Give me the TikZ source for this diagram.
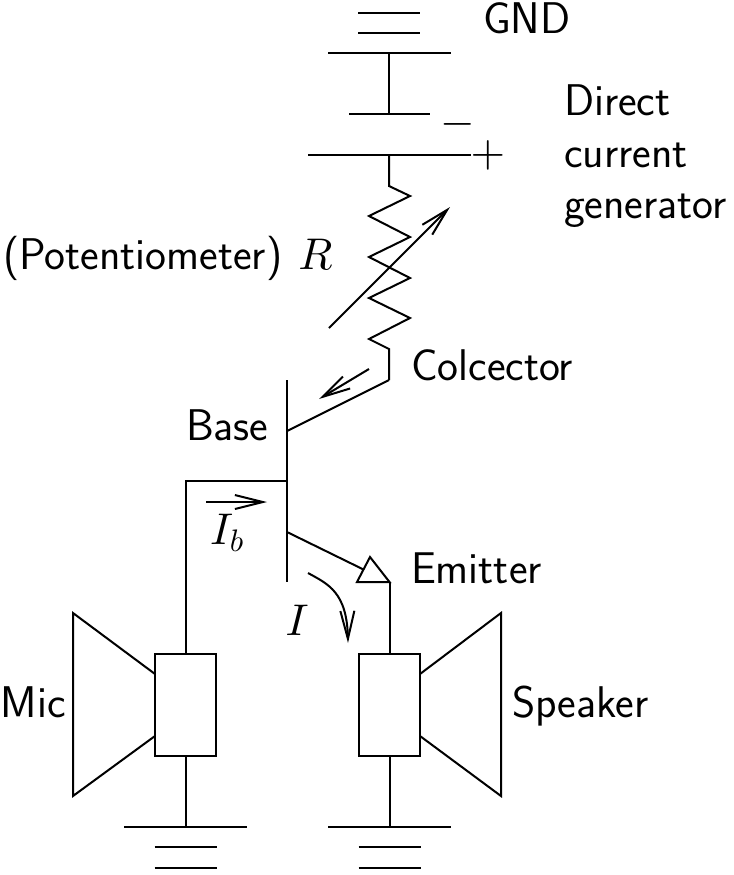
\documentclass[tikz,border=0pt]{standalone}
\usetikzlibrary{arrows.meta}
\renewcommand{\familydefault}{\sfdefault}
\DeclareFontShape{OML}{cmm}{m}{it}{<-> cmmi10}{\skewchar\font=127}
\DeclareFontShape{OMS}{cmsy}{m}{n}{<-> cmsy10}{\skewchar\font=48}
\DeclareFontShape{OT1}{cmr}{m}{n}{<-> cmr10}{}
\tikzset{
  wire/.style={line width=1.5pt, line join=miter},
  currentarrow/.style={line width=1.5pt, -{Straight Barb[length=21pt,width=10.5pt]}},
  coilbox/.style={draw, line width=1.5pt, minimum width=45.75pt, minimum height=76.5pt, inner sep=0pt, outer sep=0pt},
  lab/.style={anchor=base west, inner sep=0pt, outer sep=0pt, font=\fontsize{33.3}{39}\selectfont},
  mlab/.style={anchor=center, inner sep=0pt, outer sep=0pt, font=\fontsize{33.3}{39}\selectfont}
}

\begin{document}
\begin{tikzpicture}[x=0.75pt,y=-0.75pt]
    \useasboundingbox (0,0) rectangle (733,875);

    % ground and generator
    \coordinate (gndtopa) at (358,12.5);  \coordinate (gndtopb) at (420,12.5);
    \coordinate (gndmida) at (358,33);    \coordinate (gndmidb) at (420,33);
    \coordinate (gndlowa) at (328,53);    \coordinate (gndlowb) at (451,53);
    \coordinate (gndjoin) at (389,53);
    \coordinate (negjoin) at (389,114);
    \coordinate (nega) at (349,114);      \coordinate (negb) at (430,114);
    \coordinate (posa) at (308,155);      \coordinate (posb) at (471,155);
    \coordinate (posjoin) at (389,155);
    \draw[wire] (gndtopa) -- (gndtopb);
    \draw[wire] (gndmida) -- (gndmidb);
    \draw[wire] (gndlowa) -- (gndlowb);
    \draw[wire] (gndjoin) -- (negjoin);
    \draw[wire] (nega) -- (negb);
    \draw[wire] (posa) -- (posb);
    \node[mlab] (minus) at (458,124) {$-$};
    \node[mlab] (plus) at (488,155) {$+$};

    % potentiometer
    \coordinate (restop) at (389,186);
    \coordinate (resbot) at (389,349);
    \coordinate (collector) at (389,380);
    \draw[wire] (posjoin) -- (restop) -- (410,196) -- (369,216) -- (410,237) -- (369,257)
       -- (410,278) -- (369,298) -- (410,318) -- (369,339) -- (resbot) -- (collector);
    \coordinate (wipera) at (329,328);
    \coordinate (wiperb) at (450,207);
    \draw[currentarrow] (wipera) -- (wiperb);

    % transistor
    \coordinate (bartop) at (287,380);
    \coordinate (barbot) at (287,582);
    \coordinate (barcol) at (287,431);
    \coordinate (barbase) at (287,481);
    \coordinate (baremit) at (287,532);
    \draw[wire] (bartop) -- (barbot);
    \draw[wire] (collector) -- (barcol);
    \coordinate (triapex) at (370,557);
    \coordinate (trileft) at (357,582);
    \coordinate (triright) at (389.5,582);
    \coordinate (trimid) at (363.5,569.5);
    \draw[wire] (baremit) -- (trimid);
    \draw[wire] (triapex) -- (trileft) -- (triright) -- cycle;

    % currents
    \coordinate (icola) at (369,369);   \coordinate (icolb) at (319,399);
    \coordinate (ibasea) at (206,502);  \coordinate (ibaseb) at (267,502);
    \coordinate (iemita) at (308,573);  \coordinate (iemitb) at (348,643);
    \draw[currentarrow] (icola) -- (icolb);
    \draw[currentarrow] (ibasea) -- (ibaseb);
    \draw[currentarrow] (iemita) .. controls (328,584) and (347,592) .. (iemitb);

    % mic and speaker
    \node[coilbox] (micbox) at (185.5,705) {};
    \node[coilbox] (spkbox) at (389.5,705) {};
    \draw[wire] (barbase) -| (micbox.north);
    \draw[wire] (triright) -- (spkbox.north);
    \draw[wire] (155,674) -- (73,613) -- (73,796) -- (155,736);
    \draw[wire] (420,674) -- (501,613) -- (501,796) -- (420,736);

    % bottom grounds
    \coordinate (micgnd) at (185.5,827);
    \coordinate (spkgnd) at (389.5,827);
    \draw[wire] (micbox.south) -- (micgnd);
    \draw[wire] (spkbox.south) -- (spkgnd);
    \foreach \cx in {185.5,389.5} {
      \draw[wire] (\cx-61.5,827) -- (\cx+61.5,827);
      \draw[wire] (\cx-31,847) -- (\cx+31,847);
      \draw[wire] (\cx-31,868) -- (\cx+31,868);
    }

    % labels
    \node[lab] (gndlabel) at (483,33) {GND};
    \node[lab] (dclabel1) at (564,115) {Direct};
    \node[lab] (dclabel2) at (564,167) {current};
    \node[lab] (dclabel3) at (564,218) {generator};
    \node[lab] (potlabel) at (3,269) {(Potentiometer)\hspace{1.5pt} $R$};
    \node[lab] (collabel) at (411,380) {Colcector};
    \node[lab] (baselabel) at (186,440) {Base};
    \node[mlab] (iblabel) at (227,533) {$I_b$};
    \node[lab] (emlabel) at (411,583) {Emitter};
    \node[mlab] (ilabel) at (297,620) {$I$};
    \node[lab] (miclabel) at (1,717) {Mic};
    \node[lab] (spklabel) at (512,717) {Speaker};
\end{tikzpicture}
\end{document}
